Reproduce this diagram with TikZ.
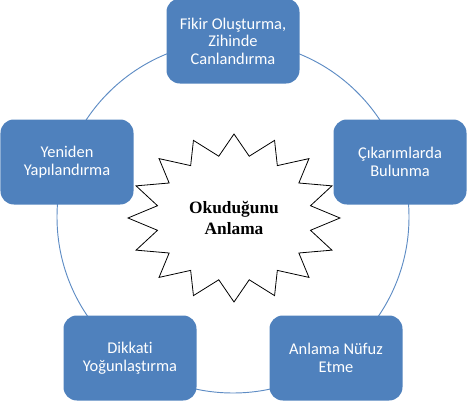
\documentclass[tikz,border=0pt]{standalone}
\usepackage{fontspec}
\setmainfont{Carlito}[Ligatures=NoCommon]
\newfontfamily\burstfont{Liberation Serif}
\usetikzlibrary{positioning}
\definecolor{stepblue}{HTML}{4F81BD}
\definecolor{ringblue}{HTML}{5E8CC4}
\tikzset{
    stepbox/.style={
        fill=stepblue, text=white, rounded corners=10pt,
        minimum width=99.75pt, minimum height=63.75pt,
        align=center, inner sep=2pt,
        font=\fontsize{12.3}{13.2}\selectfont
    },
    burst/.style={draw=black, fill=white, line width=0.6pt, line join=miter}
}

\begin{document}
\begin{tikzpicture}[x=0.75pt, y=-0.75pt]
    \useasboundingbox (0,0) rectangle (468,414);
    \coordinate (hub) at (233,217);

    % ring behind the steps
    \draw[ringblue, line width=0.7pt] (hub) circle[radius=176];

    \node[stepbox] (fikir) at (233,41) {Fikir Oluşturma,\\Zihinde\\Canlandırma};
    \node[stepbox] (cikarim) at (400,162) {Çıkarımlarda\\Bulunma};
    \node[stepbox] (nufuz) at (336,358) {Anlama Nüfuz\\Etme};
    \node[stepbox] (dikkat) at (130,358) {Dikkati\\Yoğunlaştırma};
    \node[stepbox] (yeniden) at (67,162) {Yeniden\\Yapılandırma};

    % starburst in the middle
    \draw[burst, shift={(234,218)}] (0:106 and 84)
        \foreach \a in {22.5,45,...,337.5} { -- ({\a-11.25}:78 and 63) -- (\a:106 and 84) }
        -- (348.75:78 and 63) -- cycle;
    \node[align=center, font=\burstfont\bfseries\fontsize{13}{16}\selectfont] (okuma) at (234,218) {Okuduğunu\\Anlama};
\end{tikzpicture}
\end{document}
